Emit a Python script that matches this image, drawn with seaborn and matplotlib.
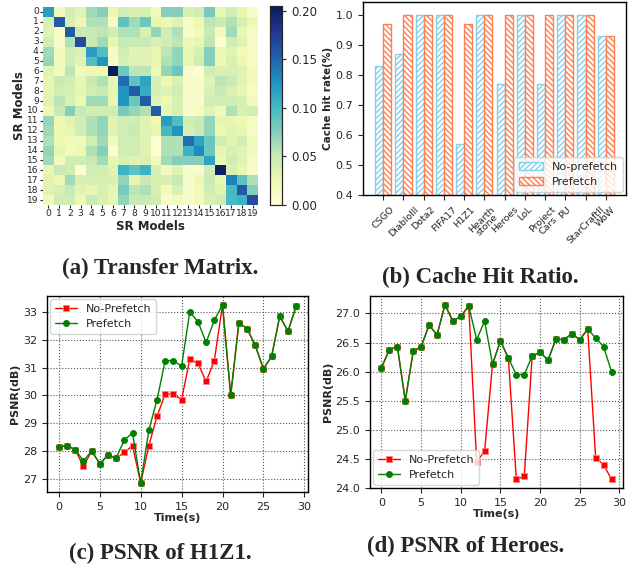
import numpy as np
import pandas as pd
import matplotlib
matplotlib.use("Agg")
import matplotlib.pyplot as plt
import matplotlib.patches as mpatches
import seaborn as sns

# ---------------- data ----------------
sr_models = [str(i) for i in range(20)]
transfer = [
    [0.120, 0.020, 0.045, 0.035, 0.065, 0.075, 0.025, 0.045, 0.040, 0.040, 0.020, 0.075, 0.075, 0.040, 0.045, 0.080, 0.030, 0.045, 0.030, 0.010],
    [0.040, 0.155, 0.040, 0.025, 0.060, 0.060, 0.015, 0.090, 0.065, 0.085, 0.030, 0.025, 0.035, 0.010, 0.025, 0.055, 0.050, 0.060, 0.040, 0.025],
    [0.035, 0.015, 0.155, 0.050, 0.050, 0.055, 0.045, 0.060, 0.060, 0.040, 0.070, 0.045, 0.060, 0.010, 0.020, 0.050, 0.020, 0.065, 0.030, 0.015],
    [0.045, 0.010, 0.060, 0.165, 0.050, 0.065, 0.030, 0.050, 0.050, 0.050, 0.040, 0.045, 0.055, 0.025, 0.030, 0.055, 0.005, 0.045, 0.035, 0.015],
    [0.065, 0.020, 0.045, 0.040, 0.120, 0.095, 0.015, 0.045, 0.035, 0.035, 0.030, 0.055, 0.070, 0.030, 0.040, 0.075, 0.025, 0.035, 0.020, 0.015],
    [0.070, 0.020, 0.045, 0.035, 0.095, 0.125, 0.015, 0.040, 0.035, 0.035, 0.030, 0.060, 0.070, 0.030, 0.045, 0.075, 0.025, 0.040, 0.025, 0.015],
    [0.035, 0.020, 0.055, 0.020, 0.025, 0.025, 0.205, 0.085, 0.055, 0.055, 0.025, 0.070, 0.085, 0.010, 0.005, 0.045, 0.040, 0.040, 0.035, 0.020],
    [0.030, 0.050, 0.045, 0.030, 0.050, 0.060, 0.030, 0.145, 0.090, 0.115, 0.040, 0.025, 0.040, 0.010, 0.010, 0.035, 0.055, 0.050, 0.035, 0.020],
    [0.030, 0.045, 0.040, 0.030, 0.045, 0.050, 0.030, 0.125, 0.155, 0.110, 0.040, 0.035, 0.045, 0.010, 0.010, 0.040, 0.050, 0.040, 0.030, 0.015],
    [0.035, 0.055, 0.040, 0.025, 0.065, 0.065, 0.030, 0.125, 0.085, 0.155, 0.035, 0.025, 0.040, 0.010, 0.010, 0.045, 0.045, 0.045, 0.040, 0.020],
    [0.025, 0.050, 0.075, 0.050, 0.045, 0.045, 0.045, 0.080, 0.070, 0.060, 0.155, 0.030, 0.040, 0.010, 0.015, 0.035, 0.020, 0.060, 0.040, 0.045],
    [0.070, 0.025, 0.035, 0.045, 0.060, 0.070, 0.035, 0.045, 0.045, 0.035, 0.025, 0.120, 0.095, 0.045, 0.050, 0.070, 0.030, 0.030, 0.025, 0.015],
    [0.065, 0.025, 0.030, 0.045, 0.060, 0.070, 0.035, 0.045, 0.050, 0.035, 0.030, 0.100, 0.125, 0.040, 0.050, 0.070, 0.025, 0.035, 0.030, 0.015],
    [0.060, 0.025, 0.020, 0.020, 0.045, 0.065, 0.020, 0.045, 0.045, 0.035, 0.005, 0.060, 0.060, 0.145, 0.115, 0.085, 0.045, 0.035, 0.045, 0.020],
    [0.070, 0.030, 0.020, 0.025, 0.060, 0.075, 0.005, 0.045, 0.045, 0.035, 0.005, 0.060, 0.060, 0.105, 0.130, 0.085, 0.030, 0.040, 0.035, 0.020],
    [0.065, 0.020, 0.045, 0.045, 0.050, 0.065, 0.030, 0.040, 0.035, 0.040, 0.020, 0.065, 0.075, 0.075, 0.075, 0.115, 0.025, 0.045, 0.035, 0.010],
    [0.030, 0.050, 0.045, 0.005, 0.045, 0.045, 0.035, 0.105, 0.090, 0.105, 0.040, 0.020, 0.035, 0.010, 0.010, 0.045, 0.200, 0.040, 0.030, 0.015],
    [0.035, 0.025, 0.065, 0.040, 0.040, 0.040, 0.040, 0.070, 0.030, 0.050, 0.040, 0.040, 0.050, 0.010, 0.025, 0.050, 0.030, 0.135, 0.090, 0.060],
    [0.035, 0.040, 0.050, 0.035, 0.030, 0.040, 0.030, 0.080, 0.055, 0.060, 0.040, 0.020, 0.040, 0.010, 0.020, 0.045, 0.035, 0.100, 0.155, 0.075],
    [0.020, 0.045, 0.045, 0.025, 0.050, 0.040, 0.030, 0.070, 0.050, 0.050, 0.045, 0.010, 0.020, 0.010, 0.020, 0.040, 0.045, 0.100, 0.105, 0.165],
]

games = ["CSGO", "DiabloIII", "Dota2", "FIFA17", "H1Z1", "Hearth\nstone",
         "Heroes", "LoL", "Project\nCars", "PU", "StarCraftII", "WoW"]
hit_no_prefetch = [0.83, 0.87, 1.00, 1.00, 0.57, 1.00, 0.77, 1.00, 0.77, 1.00, 1.00, 0.93]
hit_prefetch = [0.97, 1.00, 1.00, 1.00, 0.97, 1.00, 1.00, 1.00, 1.00, 1.00, 1.00, 0.93]

time_s = list(range(30))
h1z1_no_prefetch = [28.15, 28.2, 28.05, 27.45, 28.0, 27.55, 27.85, 27.75, 27.95, 28.2,
                    26.85, 28.2, 29.25, 30.05, 30.05, 29.85, 31.3, 31.15, 30.5, 31.25,
                    33.25, 30.0, 32.6, 32.4, 31.8, 30.95, 31.4, 32.85, 32.3, 33.2]
h1z1_prefetch = [28.15, 28.2, 28.05, 27.65, 28.0, 27.55, 27.85, 27.75, 28.4, 28.65,
                 26.85, 28.75, 29.85, 31.25, 31.25, 31.05, 33.0, 32.65, 31.9, 32.7,
                 33.25, 30.0, 32.6, 32.4, 31.8, 30.95, 31.4, 32.85, 32.3, 33.2]
heroes_no_prefetch = [26.07, 26.38, 26.43, 25.5, 26.35, 26.43, 26.8, 26.63, 27.15, 26.87,
                      26.95, 27.13, 24.45, 24.63, 26.13, 26.53, 26.23, 24.15, 24.2, 26.27,
                      26.33, 26.2, 26.56, 26.55, 26.65, 26.55, 26.73, 24.52, 24.4, 24.15]
heroes_prefetch = [26.07, 26.38, 26.43, 25.5, 26.35, 26.43, 26.8, 26.63, 27.15, 26.87,
                   26.95, 27.13, 26.55, 26.87, 26.13, 26.53, 26.23, 25.95, 25.95, 26.27,
                   26.33, 26.2, 26.56, 26.55, 26.65, 26.55, 26.73, 26.58, 26.43, 26.0]

captions = ["(a) Transfer Matrix.", "(b) Cache Hit Ratio.",
            "(c) PSNR of H1Z1.", "(d) PSNR of Heroes."]

# ---------------- figure ----------------
sns.set_style("ticks")
plt.rcParams['font.family'] = ['DejaVu Sans']
W, H = 641, 567
fig = plt.figure(figsize=(W / 100, H / 100), dpi=100)

def box(l, r, t, b):
    return [l / W, (H - b) / H, (r - l) / W, (b - t) / H]

# (a) heatmap
ax_a = fig.add_axes(box(43, 258, 7, 205))
cax = fig.add_axes(box(270, 282, 6, 205))
df_t = pd.DataFrame(transfer, index=sr_models, columns=sr_models)
sns.heatmap(df_t, cmap="YlGnBu", vmin=0, ax=ax_a, cbar_ax=cax,
            xticklabels=True, yticklabels=True)
ax_a.tick_params(axis='both', labelsize=6.6, length=2, pad=1)
ax_a.set_yticklabels(sr_models, rotation=0)
ax_a.set_xticklabels(sr_models, rotation=0)
ax_a.set_xlabel("SR Models", fontsize=8.5, fontweight='bold', labelpad=1)
ax_a.set_ylabel("SR Models", fontsize=8.5, fontweight='bold', labelpad=1)
cax.tick_params(labelsize=8.5, length=3)
cax.set_yticks([0, 0.05, 0.10, 0.15, 0.20])
cax.set_yticklabels(["0.00", "0.05", "0.10", "0.15", "0.20"])
for s in cax.spines.values():
    s.set_visible(True)
    s.set_linewidth(0.8)

# (b) bar chart
ax_b = fig.add_axes(box(363, 626, 2, 195))
df_b = pd.DataFrame({
    "game": games * 2,
    "rate": hit_no_prefetch + hit_prefetch,
    "method": ["No-prefetch"] * len(games) + ["Prefetch"] * len(games),
})
c_no, c_pre = "#87CEEB", "#FF7F50"
sns.barplot(data=df_b, x="game", y="rate", hue="method", ax=ax_b,
            palette=[c_no, c_pre], width=0.8, legend=False)
for i, p in enumerate(ax_b.patches):
    col = c_no if i < len(games) else c_pre
    p.set_facecolor("white")
    p.set_edgecolor(col)
    p.set_hatch("//////" if i < len(games) else "\\\\\\\\\\\\")
    p.set_linewidth(1.0)
ax_b.set_ylim(0.4, 1.045)
ax_b.set_xlim(-1.0, 12.0)
ax_b.set_xlabel("")
ax_b.set_ylabel("Cache hit rate(%)", fontsize=7.5, fontweight='bold', labelpad=2)
ax_b.tick_params(axis='y', labelsize=8)
ax_b.tick_params(axis='x', labelsize=6.8)
plt.setp(ax_b.get_xticklabels(), rotation=45, ha='center', linespacing=0.9)
for s in ax_b.spines.values():
    s.set_visible(True)
    s.set_linewidth(1.0)
    s.set_color("black")
handles = [mpatches.Patch(facecolor="white", edgecolor=c_no, hatch="//////", label="No-prefetch"),
           mpatches.Patch(facecolor="white", edgecolor=c_pre, hatch="\\\\\\\\\\\\", label="Prefetch")]
ax_b.legend(handles=handles, loc="lower right", fontsize=8, handlelength=2.2,
            borderaxespad=0.3, fancybox=True)

# (c) and (d) line charts
def psnr_plot(ax, no_pf, pf, loc):
    df = pd.DataFrame({
        "t": time_s * 2,
        "psnr": no_pf + pf,
        "method": ["No-Prefetch"] * len(time_s) + ["Prefetch"] * len(time_s),
    })
    sns.lineplot(data=df[df.method == "No-Prefetch"], x="t", y="psnr", ax=ax,
                 color="red", marker="s", markersize=4.2, linewidth=1,
                 markeredgecolor="#ff8080", markeredgewidth=0.6, label="No-Prefetch")
    sns.lineplot(data=df[df.method == "Prefetch"], x="t", y="psnr", ax=ax,
                 color="green", marker="o", markersize=4.2, linewidth=1,
                 markeredgecolor="green", label="Prefetch")
    ax.grid(True, linestyle=":", color="#555555", linewidth=0.8)
    ax.set_xticks([0, 5, 10, 15, 20, 25, 30])
    ax.set_xlabel("Time(s)", fontsize=8, fontweight='bold', labelpad=1)
    ax.set_ylabel("PSNR(dB)", fontsize=8, fontweight='bold', labelpad=2)
    ax.tick_params(labelsize=8)
    for s in ax.spines.values():
        s.set_visible(True)
        s.set_linewidth(1.0)
        s.set_color("black")
    ax.legend(loc=loc, fontsize=8, borderaxespad=0.3)

ax_c = fig.add_axes(box(47, 308, 296, 492))
psnr_plot(ax_c, h1z1_no_prefetch, h1z1_prefetch, "upper left")
ax_d = fig.add_axes(box(370, 623, 296, 488))
psnr_plot(ax_d, heroes_no_prefetch, heroes_prefetch, "lower left")
ax_d.set_yticks([24.0, 24.5, 25.0, 25.5, 26.0, 26.5, 27.0])
ax_d.yaxis.set_major_formatter(matplotlib.ticker.FormatStrFormatter("%.1f"))

# captions
cap_font = dict(fontsize=16.5, fontweight='bold', family=['Liberation Serif'], ha='center', va='center')
fig.text(160 / W, 1 - 268 / H, captions[0], **cap_font)
fig.text(480 / W, 1 - 277 / H, captions[1], **cap_font)
fig.text(160 / W, 1 - 553 / H, captions[2], **cap_font)
fig.text(466 / W, 1 - 546 / H, captions[3], **cap_font)

fig.savefig("out.png", dpi=100)
